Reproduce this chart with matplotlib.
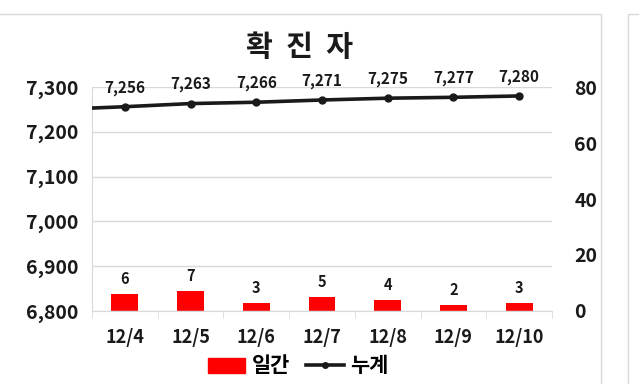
import matplotlib
matplotlib.use('Agg')
import matplotlib.pyplot as plt
from matplotlib.patches import Rectangle
from matplotlib.lines import Line2D

plt.rcParams['font.family'] = ['Noto Sans CJK KR', 'DejaVu Sans']
plt.rcParams['font.weight'] = 'bold'

dates = ['12/4', '12/5', '12/6', '12/7', '12/8', '12/9', '12/10']
daily = [6, 7, 3, 5, 4, 2, 3]
total = [7256, 7263, 7266, 7271, 7275, 7277, 7280]
prev_total = 7250  # 12/3, line runs in from the left edge

fig = plt.figure(figsize=(6.39, 3.84), dpi=100)

# outer frames
fig.patches.append(Rectangle((-0.01, -0.01), 601 / 639 + 0.01, 1 - 14 / 384 + 0.01,
                             transform=fig.transFigure, fill=False,
                             edgecolor='#d9d9d9', linewidth=1))
fig.patches.append(Rectangle((628 / 639, -0.01), 0.1, 1 - 14 / 384 + 0.01,
                             transform=fig.transFigure, fill=False,
                             edgecolor='#d9d9d9', linewidth=1))

ax = fig.add_axes([92 / 639, 1 - 311 / 384, 460 / 639, 224 / 384])
ax2 = ax.twinx()

x = list(range(len(dates)))

# line on left axis
ax.plot([-1] + x, [prev_total] + total, color='#1a1a1a', linewidth=2.6,
        marker='o', markersize=5, zorder=3, clip_on=True)
ax.set_xlim(-0.5, len(dates) - 0.5)
ax.set_ylim(6800, 7300)
ax.set_yticks(range(6800, 7301, 100))
ax.set_yticklabels([f'{v:,}' for v in range(6800, 7301, 100)])
for xi, v in zip(x, total):
    ax.annotate(f'{v:,}', (xi, v), xytext=(0, 8), textcoords='offset points',
                ha='center', va='bottom', fontsize=11, fontweight='bold', color='#1a1a1a')

# bars on right axis
ax2.bar(x, daily, width=0.41, color='#ff0000', zorder=2)
ax2.set_ylim(0, 80)
ax2.set_yticks(range(0, 81, 20))
for xi, v in zip(x, daily):
    ax2.annotate(str(v), (xi, v), xytext=(0, 5), textcoords='offset points',
                 ha='center', va='bottom', fontsize=10.5, fontweight='bold', color='#1a1a1a')

ax.set_zorder(ax2.get_zorder() + 1)
ax.patch.set_visible(False)

ax.grid(axis='y', color='#d9d9d9', linewidth=1)
ax.set_axisbelow(True)
ax.set_xticks(x)
ax.set_xticklabels(dates)
ax.set_xticks([i - 0.5 for i in range(len(dates) + 1)], minor=True)
ax.tick_params(axis='x', which='major', length=0, pad=12, labelsize=13, labelcolor='#1a1a1a')
ax.tick_params(axis='x', which='minor', length=5, color='#d9d9d9', direction='out')
ax.tick_params(axis='y', length=0, pad=10, labelsize=14, labelcolor='#1a1a1a')
ax2.tick_params(axis='y', length=0, pad=16, labelsize=14, labelcolor='#1a1a1a')

for a in (ax, ax2):
    for s in ('top', 'right'):
        a.spines[s].set_visible(False)
ax2.spines['left'].set_visible(False)
ax2.spines['bottom'].set_visible(False)
ax.spines['left'].set_color('#d9d9d9')
ax.spines['bottom'].set_color('#d9d9d9')

fig.text(300 / 639, 1 - 47 / 384, '확  진  자', ha='center', va='center',
         fontsize=21, fontweight='bold', color='#1a1a1a')

handles = [Rectangle((0, 0), 1, 1, color='#ff0000'),
           Line2D([0], [0], color='#1a1a1a', linewidth=2.6, marker='o', markersize=4)]
fig.legend(handles, ['일간', '누계'], loc='center', bbox_to_anchor=(298 / 639, 1 - 366 / 384),
           ncol=2, frameon=False, handlelength=1.8, handletextpad=0.3,
           columnspacing=0.8, prop={'weight': 'bold', 'size': 15})

fig.savefig('out.png', dpi=100)
